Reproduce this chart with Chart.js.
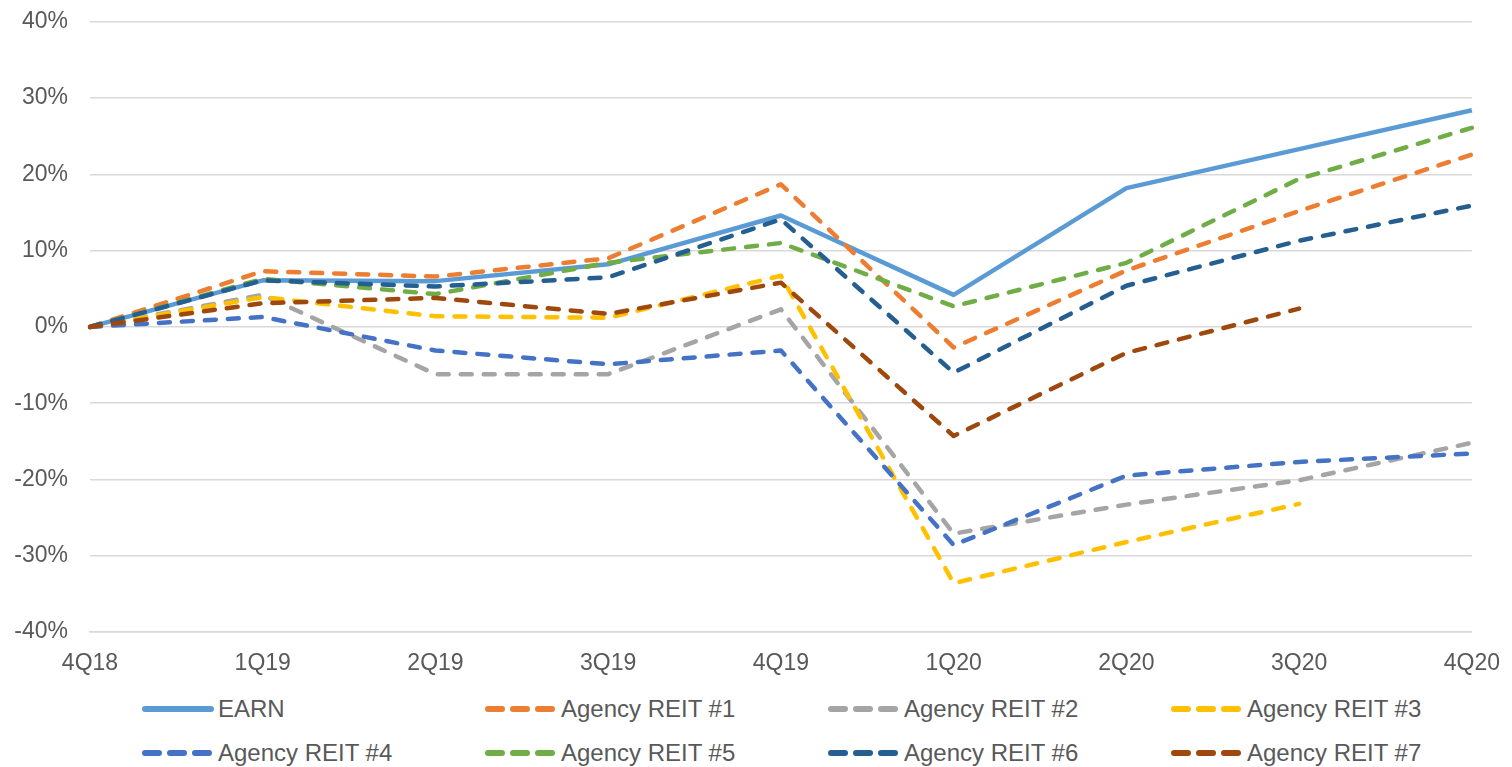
<!DOCTYPE html>
<html>
<head>
<meta charset="utf-8">
<script src="https://cdn.jsdelivr.net/npm/chart.js@4.4.1/dist/chart.umd.min.js"></script>
<style>
  html, body { margin: 0; padding: 0; background: #fff; }
  body { width: 1512px; height: 767px; position: relative; overflow: hidden; font-family: "Liberation Sans", Arial, sans-serif; }
  #wrap { position: absolute; left: 0; top: -14px; width: 1518px; height: 694px; }
  #legend { position: absolute; left: 142px; top: 695px; width: 1380px; display: grid; grid-template-columns: repeat(4, 343px); row-gap: 16px; }
  .li { display: flex; align-items: center; height: 28px; font-size: 24px; color: #595959; }
  .li svg { width: 72px; height: 10px; margin-right: 4px; flex: none; }
</style>
</head>
<body>
<div id="wrap"><canvas id="c"></canvas></div>
<div id="legend"></div>
<script>
// total return by quarter, EARN vs agency REIT peers
const quarters = ["4Q18", "1Q19", "2Q19", "3Q19", "4Q19", "1Q20", "2Q20", "3Q20", "4Q20"];
const names = ["EARN", "Agency REIT #1", "Agency REIT #2", "Agency REIT #3", "Agency REIT #4", "Agency REIT #5", "Agency REIT #6", "Agency REIT #7"];
const colors = ["#5B9BD5", "#ED7D31", "#A5A5A5", "#FFC000", "#4472C4", "#70AD47", "#255E91", "#9E480E"];

const earn  = [0, 6.1, 6.0, 8.2, 14.6, 4.2, 18.2, 23.3, 28.4];
const reit1 = [0, 7.3, 6.6, 9.0, 18.7, -2.7, 7.4, 15.2, 22.6];
const reit2 = [0, 4.2, -6.2, -6.2, 2.3, -27.1, -23.3, -20.1, -15.2];
const reit3 = [0, 3.9, 1.4, 1.2, 6.7, -33.6, -28.2, -23.2, null];
const reit4 = [0, 1.3, -3.1, -4.9, -3.1, -28.6, -19.5, -17.7, -16.6];
const reit5 = [0, 6.3, 4.3, 8.4, 11.0, 2.7, 8.4, 19.4, 26.1];
const reit6 = [0, 6.1, 5.3, 6.5, 14.1, -6.0, 5.4, 11.3, 15.9];
const reit7 = [0, 3.1, 3.8, 1.7, 5.8, -14.3, -3.4, 2.4, null];
const series = [earn, reit1, reit2, reit3, reit4, reit5, reit6, reit7];

const yMin = -40, yMax = 40, yStep = 10;
const font = { family: '"Liberation Sans", Arial, sans-serif', size: 23 };

const datasets = series.map((d, i) => ({
  label: names[i], data: d, borderColor: colors[i], backgroundColor: colors[i],
  borderWidth: 4.5, borderDash: i === 0 ? [] : [11, 12],
  borderCapStyle: i === 0 ? "butt" : "round", borderJoinStyle: "round",
  pointRadius: 0, tension: 0, spanGaps: false, order: series.length - i,
}));

new Chart(document.getElementById("c"), {
  type: "line",
  data: { labels: quarters, datasets },
  options: {
    responsive: true, maintainAspectRatio: false, animation: false,
    layout: { padding: { top: 6, right: 40, left: 0, bottom: 0 } },
    plugins: { legend: { display: false }, tooltip: { enabled: false } },
    scales: {
      x: {
        offset: false,
        grid: { display: false, drawTicks: false },
        border: { color: "#d9d9d9", width: 1.5 },
        ticks: { color: "#595959", font, padding: 18, maxRotation: 0, autoSkip: false },
        afterFit: s => { s.height = 48; },
      },
      y: {
        min: yMin, max: yMax,
        grid: { color: "#d9d9d9", lineWidth: 1.5, drawTicks: false },
        border: { display: false },
        ticks: { stepSize: yStep, color: "#595959", font, padding: 22, callback: v => v + "%" },
        afterFit: s => { s.width = 90; },
      },
    },
  },
});

// legend: 4 columns x 2 rows, same order as the series
const NS = "http://www.w3.org/2000/svg";
const $legend = document.getElementById("legend");
names.forEach((n, i) => {
  const item = document.createElement("div"); item.className = "li";
  const svg = document.createElementNS(NS, "svg");
  const ln = document.createElementNS(NS, "line");
  ln.setAttribute("x1", 3); ln.setAttribute("x2", i === 0 ? 69 : 67);
  ln.setAttribute("y1", 5); ln.setAttribute("y2", 5);
  ln.setAttribute("stroke", colors[i]); ln.setAttribute("stroke-width", 6);
  ln.setAttribute("stroke-linecap", "round");
  if (i > 0) ln.setAttribute("stroke-dasharray", "14 11");
  svg.appendChild(ln); item.appendChild(svg);
  item.appendChild(document.createTextNode(n));
  $legend.appendChild(item);
});
</script>
</body>
</html>
